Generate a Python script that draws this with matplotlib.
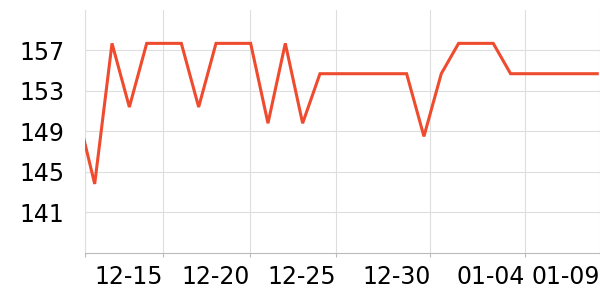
#!/usr/bin/env python
#
# quick line plot of daily values (dec - jan)
#----------------------------------------------------------------
import matplotlib
matplotlib.use('Agg')
#----------------------------------------------------------------
import numpy as np
import matplotlib.pyplot as plt

# daily values, first one sits just left of the plot window
values = [150.9, 143.8, 157.7, 151.4, 157.7, 157.7, 157.7, 151.4, 157.7, 157.7,
          157.7, 149.8, 157.7, 149.8, 154.7, 154.7, 154.7, 154.7, 154.7, 154.7,
          148.5, 154.7, 157.7, 157.7, 157.7, 154.7, 154.7, 154.7, 154.7, 154.7,
          154.7]
days = np.arange(len(values))

# x tick positions (in day index) and their labels
xticks = [0.458, 4.96, 9.98, 14.94, 20.37, 25.85, 30.16]
xlabels = ['', '12-15', '12-20', '12-25', '12-30', '01-04', '01-09']
yticks = [141, 145, 149, 153, 157]

gridcol = '#dedede'
linecol = '#ef4b2e'

fig = plt.figure(figsize=(6, 3), dpi=100)
ax = fig.add_axes([85.3/600, 47.3/300, 1 - 85.3/600, 242.7/300])
ax.plot(days, values, color=linecol, lw=2.2, solid_joinstyle='miter', zorder=3)

ax.set_xlim(xticks[0], xticks[-1])
ax.set_ylim(137, 161)
ax.set_xticks(xticks)
ax.set_xticklabels(xlabels, ha='right')
ax.set_yticks(yticks)

ax.grid(True, color=gridcol, lw=0.8)
ax.set_axisbelow(True)
for side in ['top', 'right']:
    ax.spines[side].set_visible(False)
ax.spines['left'].set_color(gridcol)
ax.spines['left'].set_linewidth(0.8)
ax.spines['bottom'].set_color('#bbbbbb')
ax.spines['bottom'].set_linewidth(0.8)

ax.tick_params(axis='x', length=3, width=0.8, color='#bbbbbb', pad=6,
               labelsize=17)
ax.tick_params(axis='y', length=0, pad=15, labelsize=17)

plt.savefig('out.png', dpi=100)
